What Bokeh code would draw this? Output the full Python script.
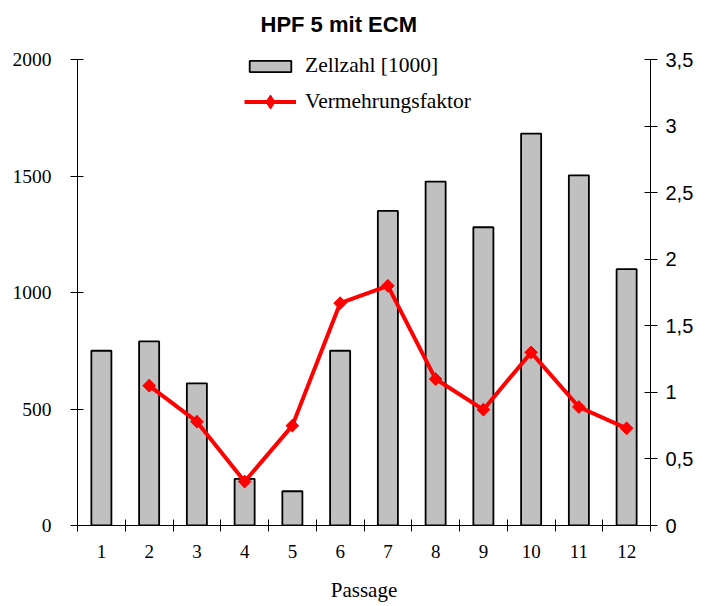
import math
from bokeh.plotting import figure
from bokeh.models import Range1d, LinearAxis, FixedTicker, Legend, LegendItem
from bokeh.embed import file_html
from bokeh.resources import INLINE

# ---- data ----
passages = [1, 2, 3, 4, 5, 6, 7, 8, 9, 10, 11, 12]
passage_labels = ["1", "2", "3", "4", "5", "6", "7", "8", "9", "10", "11", "12"]
zellzahl = [750, 790, 610, 200, 147, 750, 1350, 1476, 1280, 1682, 1503, 1100]
vf_passages = [2, 3, 4, 5, 6, 7, 8, 9, 10, 11, 12]
vermehrungsfaktor = [1.05, 0.78, 0.33, 0.75, 1.67, 1.80, 1.10, 0.87, 1.30, 0.89, 0.73]
left_ticks = [0, 500, 1000, 1500, 2000]
left_tick_labels = ["0", "500", "1000", "1500", "2000"]
right_ticks = [0, 0.5, 1, 1.5, 2, 2.5, 3, 3.5]
right_tick_labels = ["0", "0,5", "1", "1,5", "2", "2,5", "3", "3,5"]
boundaries = [0.5 + i for i in range(13)]
left_max = 2000
right_max = 3.5

SERIF = "Liberation Serif"
SANS = "Liberation Sans"

# frame extends a little above the axes' top ticks so the legend fits inside it
headroom = 480.0 / 466.0

p = figure(width=711, height=606, x_range=Range1d(0.5, 12.5),
           y_range=Range1d(0, left_max * headroom),
           output_backend="svg", toolbar_location=None,
           min_border_left=77, min_border_right=61, min_border_top=45, min_border_bottom=81,
           title="HPF 5 mit ECM")
p.extra_y_ranges = {"vf": Range1d(0, right_max * headroom)}

p.title.text_font = SANS
p.title.text_font_size = "22px"
p.title.text_font_style = "bold"
p.title.text_color = "black"
p.title.align = "left"
p.title.offset = 183
p.title.standoff = 18

p.xgrid.visible = False
p.ygrid.visible = False
p.outline_line_color = None

bars = p.vbar(x=passages, top=zellzahl, bottom=0, width=0.42,
              fill_color="#C0C0C0", line_color="black", line_width=1.8)
ln = p.line(vf_passages, vermehrungsfaktor, y_range_name="vf", line_color="#FF0000", line_width=4)
# diamond marker (used for the legend; fully covered by the square-diamonds on top)
dm = p.scatter(vf_passages, vermehrungsfaktor, y_range_name="vf", marker="diamond",
               size=12, fill_color="#FF0000", line_color="#FF0000", line_width=1)
mk = p.scatter(vf_passages, vermehrungsfaktor, y_range_name="vf", marker="square",
               angle=math.pi / 4, size=9, fill_color="#FF0000", line_color="#FF0000", line_width=1)

# x axis
xa = p.xaxis[0]
xa.ticker = FixedTicker(ticks=passages, minor_ticks=boundaries)
xa.major_label_overrides = dict(zip(passages, passage_labels))
xa.major_tick_in = 0
xa.major_tick_out = 0
xa.minor_tick_in = 6
xa.minor_tick_out = 6
xa.minor_tick_line_color = "black"
xa.axis_line_color = "black"
xa.major_label_text_font = SERIF
xa.major_label_text_font_size = "19px"
xa.major_label_text_color = "black"
xa.major_label_standoff = 13
xa.axis_label = "Passage"
xa.axis_label_text_font = SERIF
xa.axis_label_text_font_size = "21px"
xa.axis_label_text_font_style = "normal"
xa.axis_label_text_color = "black"
xa.axis_label_standoff = 17

# left axis
ya = p.yaxis[0]
ya.ticker = FixedTicker(ticks=left_ticks)
ya.bounds = (0, left_max)
ya.major_label_overrides = dict(zip(left_ticks, left_tick_labels))
ya.major_tick_in = 6
ya.major_tick_out = 7
ya.minor_tick_line_color = None
ya.axis_line_color = "black"
ya.major_tick_line_color = "black"
ya.major_label_text_font = SERIF
ya.major_label_text_font_size = "19.5px"
ya.major_label_text_color = "black"
ya.major_label_standoff = 19

# right axis
ra = LinearAxis(y_range_name="vf", ticker=FixedTicker(ticks=right_ticks), bounds=(0, right_max))
ra.major_label_overrides = dict(zip(right_ticks, right_tick_labels))
ra.major_tick_in = 6
ra.major_tick_out = 7
ra.minor_tick_line_color = None
ra.axis_line_color = "black"
ra.major_tick_line_color = "black"
ra.major_label_text_font = SANS
ra.major_label_text_font_size = "20px"
ra.major_label_text_color = "black"
ra.major_label_standoff = 8
p.add_layout(ra, "right")

common = dict(border_line_color=None, background_fill_alpha=0, padding=0, margin=0,
              glyph_width=52, label_height=25, label_standoff=9,
              label_text_font=SERIF, label_text_font_size="21.5px", label_text_color="black")
legend1 = Legend(items=[LegendItem(label="Zellzahl [1000]", renderers=[bars])],
                 location=(167, 447), glyph_height=14, **common)
legend2 = Legend(items=[LegendItem(label="Vermehrungsfaktor", renderers=[ln, dm])],
                 location=(167, 406), glyph_height=35, **common)
p.add_layout(legend1)
p.add_layout(legend2)

open("out.html", "w").write(file_html(p, INLINE))
